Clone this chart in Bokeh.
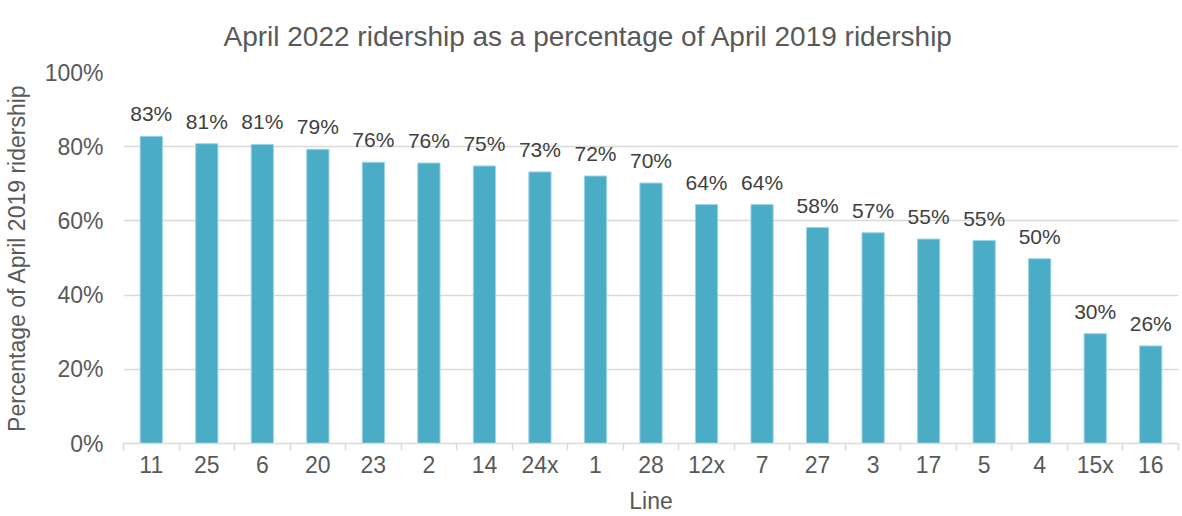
from bokeh.plotting import figure
from bokeh.models import ColumnDataSource, FixedTicker, PrintfTickFormatter, Range1d, Title
from bokeh.embed import file_html
from bokeh.resources import INLINE
from bokeh.core.properties import value

lines = ["11", "25", "6", "20", "23", "2", "14", "24x", "1", "28", "12x", "7",
         "27", "3", "17", "5", "4", "15x", "16"]
ridership_pct = [82.8, 80.8, 80.6, 79.3, 75.8, 75.6, 74.8, 73.2, 72.1, 70.2, 64.4,
                 64.4, 58.2, 56.8, 55.1, 54.7, 49.8, 29.6, 26.3]
y_ticks = [0, 20, 40, 60, 80, 100]
title_text = "April 2022 ridership as a percentage of April 2019 ridership"

FONT = "Liberation Sans"
GRAY = "#595959"
n = len(lines)
xs = [i + 0.5 for i in range(n)]
src = ColumnDataSource(dict(
    x=xs, y=ridership_pct, name=lines,
    label=[f"{v:.0f}%" for v in ridership_pct],
))

p = figure(width=1182, height=516, output_backend="svg", toolbar_location=None,
           x_range=Range1d(0, n), y_range=Range1d(0, 100),
           min_border_left=10, min_border_right=4, min_border_top=72, min_border_bottom=0)
p.outline_line_color = None
p.background_fill_color = "white"

t = Title(text=title_text, align="left", offset=100, vertical_align="top",
          text_font=FONT, text_font_size="28px", text_color=GRAY,
          text_font_style="normal", standoff=38)
p.add_layout(t, "above")

p.vbar(x="x", top="y", width=0.4, source=src, fill_color="#4BACC6",
       line_color="#9ad3e2", line_width=1)
p.text(x="x", y="y", text="label", source=src, text_align="center",
       text_baseline="bottom", y_offset=-11, text_font=value(FONT),
       text_font_size="21px", text_color="#404040")

# x axis
p.xaxis.ticker = FixedTicker(ticks=xs, minor_ticks=list(range(n + 1)))
p.xaxis.major_label_overrides = {x: name for x, name in zip(xs, lines)}
p.xaxis.major_tick_out = 0
p.xaxis.major_tick_in = 0
p.xaxis.minor_tick_out = 7
p.xaxis.minor_tick_in = 0
p.xaxis.minor_tick_line_color = "#d9d9d9"
p.xaxis.minor_tick_line_width = 1.5
p.xaxis.axis_line_color = "#d9d9d9"
p.xaxis.axis_line_width = 1.5
p.xaxis.major_label_text_font = FONT
p.xaxis.major_label_text_font_size = "23px"
p.xaxis.major_label_text_color = GRAY
p.xaxis.major_label_standoff = 1
p.xaxis.axis_label = "Line"
p.xaxis.axis_label_text_font = FONT
p.xaxis.axis_label_text_font_size = "23px"
p.xaxis.axis_label_text_font_style = "normal"
p.xaxis.axis_label_text_color = GRAY
p.xaxis.axis_label_standoff = 7

# y axis
p.yaxis.ticker = FixedTicker(ticks=y_ticks)
p.yaxis.formatter = PrintfTickFormatter(format="%d%%")
p.yaxis.axis_line_color = None
p.yaxis.major_tick_line_color = None
p.yaxis.minor_tick_line_color = None
p.yaxis.major_tick_out = 0
p.yaxis.major_label_standoff = 20
p.yaxis.major_label_text_font = FONT
p.yaxis.major_label_text_font_size = "23px"
p.yaxis.major_label_text_color = GRAY
p.yaxis.axis_label = "Percentage of April 2019 ridership"
p.yaxis.axis_label_text_font = FONT
p.yaxis.axis_label_text_font_size = "23px"
p.yaxis.axis_label_text_font_style = "normal"
p.yaxis.axis_label_text_color = GRAY
p.yaxis.axis_label_standoff = 12

p.xgrid.visible = False
p.ygrid.ticker = FixedTicker(ticks=y_ticks)
p.ygrid.grid_line_color = "#d9d9d9"
p.ygrid.grid_line_width = 1.5

open("out.html", "w").write(file_html(p, INLINE))
